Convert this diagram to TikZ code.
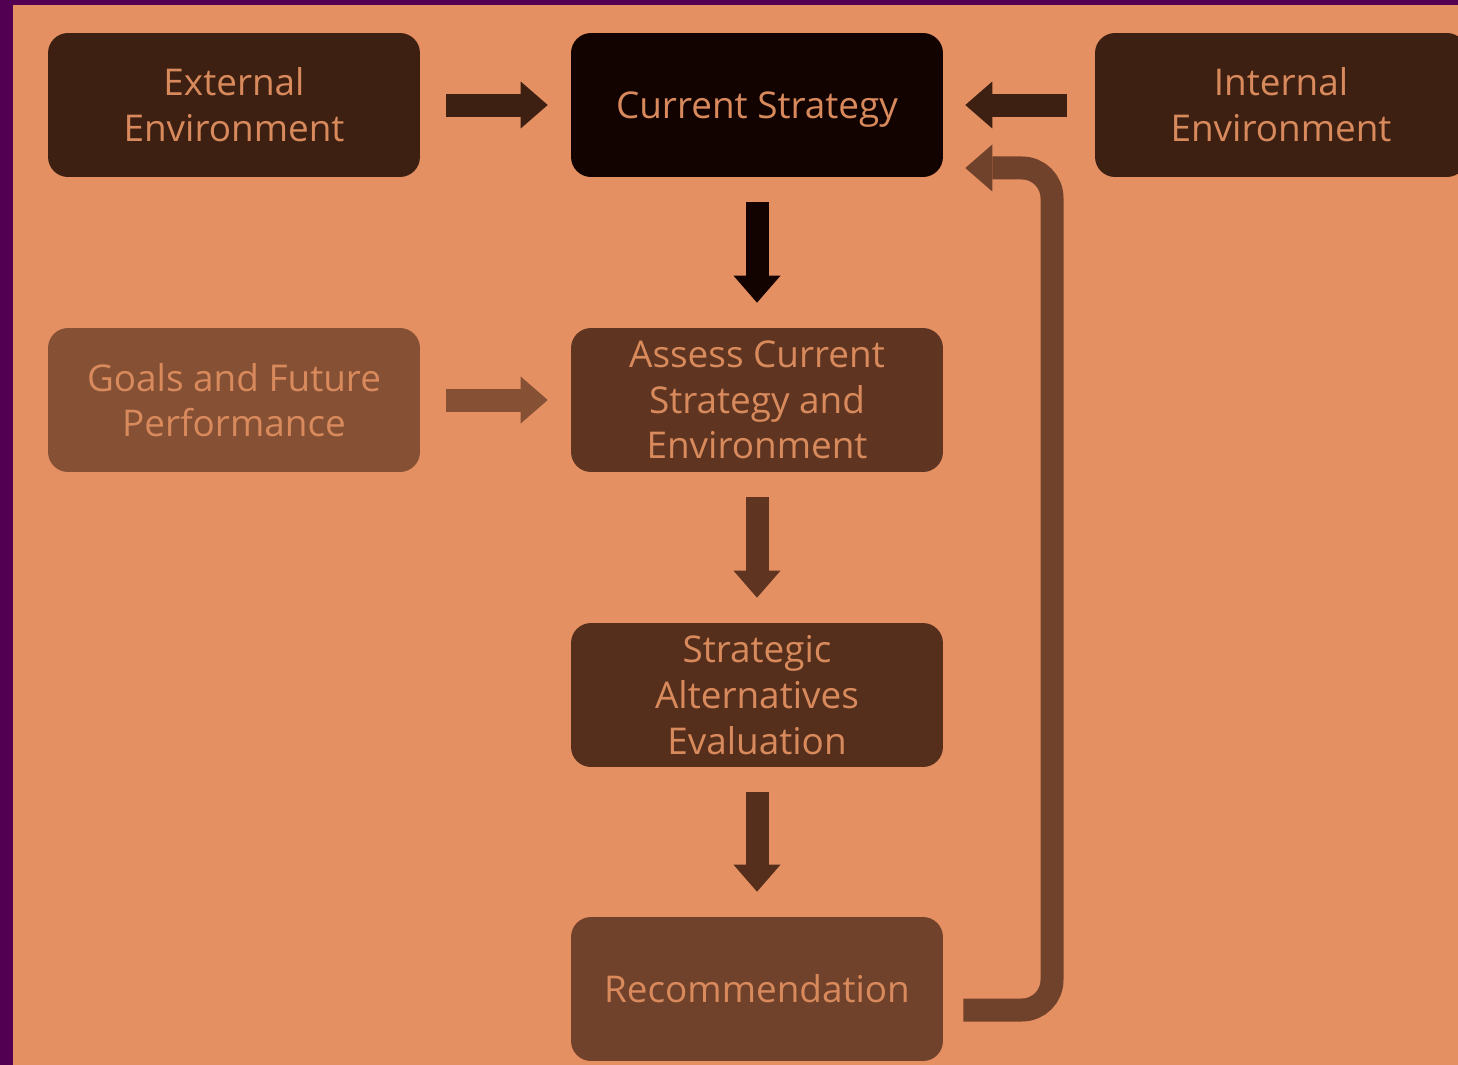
\documentclass[tikz,border=0pt]{standalone}
\usepackage{fontspec}
\setmainfont{Open Sans}
\usetikzlibrary{arrows.meta}

\definecolor{frame}{HTML}{520052}
\definecolor{paper}{HTML}{E49062}
\definecolor{boxtext}{HTML}{D98A5C}
\definecolor{envbrown}{HTML}{3D2012}
\definecolor{curblack}{HTML}{120200}
\definecolor{goalbrown}{HTML}{855034}
\definecolor{assessbrown}{HTML}{5F3521}
\definecolor{altbrown}{HTML}{552F1C}
\definecolor{recbrown}{HTML}{71422B}

\begin{document}
\begin{tikzpicture}[x=0.02cm, y=-0.02cm,
    stage/.style={rounded corners=0.4cm, minimum width=7.44cm, minimum height=2.88cm,
        inner sep=0pt, align=center, text=boxtext, font=\fontsize{21}{26}\selectfont},
    flow/.style={line width=0.46cm, -{Triangle[length=0.54cm, width=0.94cm, line width=0pt]},
        shorten <=0.52cm, shorten >=0.46cm}]

    \useasboundingbox (0,0) rectangle (1458,1065);
    \clip (0,0) rectangle (1458,1065);
    \fill[frame] (0,0) rectangle (1458,1065);
    \fill[paper] (13,5) rectangle (1458,1065);

    % boxes
    \node[stage, fill=envbrown] (ext) at (234,105) {External\\Environment};
    \node[stage, fill=curblack, text depth=0pt] (cur) at (757,105) {Current Strategy};
    \node[stage, fill=envbrown] (int) at (1281,105) {Internal\\Environment};
    \node[stage, fill=goalbrown] (goals) at (234,400) {Goals and Future\\Performance};
    \node[stage, fill=assessbrown] (assess) at (757,400) {Assess Current\\Strategy and\\Environment};
    \node[stage, fill=altbrown] (alt) at (757,695) {Strategic\\Alternatives\\Evaluation};
    \node[stage, fill=recbrown] (rec) at (757,989) {Recommendation};

    % arrows between boxes
    \draw[flow, envbrown] (ext) -- (cur);
    \draw[flow, envbrown, shorten <=0.56cm, shorten >=0.44cm] (int) -- (cur);
    \draw[flow, goalbrown] (goals) -- (assess);
    \draw[flow, curblack, shorten <=0.5cm, shorten >=0.5cm] (cur) -- (assess);
    \draw[flow, assessbrown, shorten <=0.5cm, shorten >=0.5cm] (assess) -- (alt);
    \draw[flow, altbrown, shorten <=0.5cm, shorten >=0.5cm] (alt) -- (rec);

    % feedback loop back to the top
    \coordinate (fbstart) at ([xshift=0.4cm, yshift=-0.42cm]rec.east);
    \coordinate (fbend) at ([xshift=0.44cm, yshift=-1.26cm]cur.east);
    \coordinate (rail) at (1052,600);
    \draw[flow, recbrown, shorten <=0pt, shorten >=0pt, rounded corners=0.6cm]
        (fbstart) -| (rail |- fbend) -- (fbend);
\end{tikzpicture}
\end{document}
